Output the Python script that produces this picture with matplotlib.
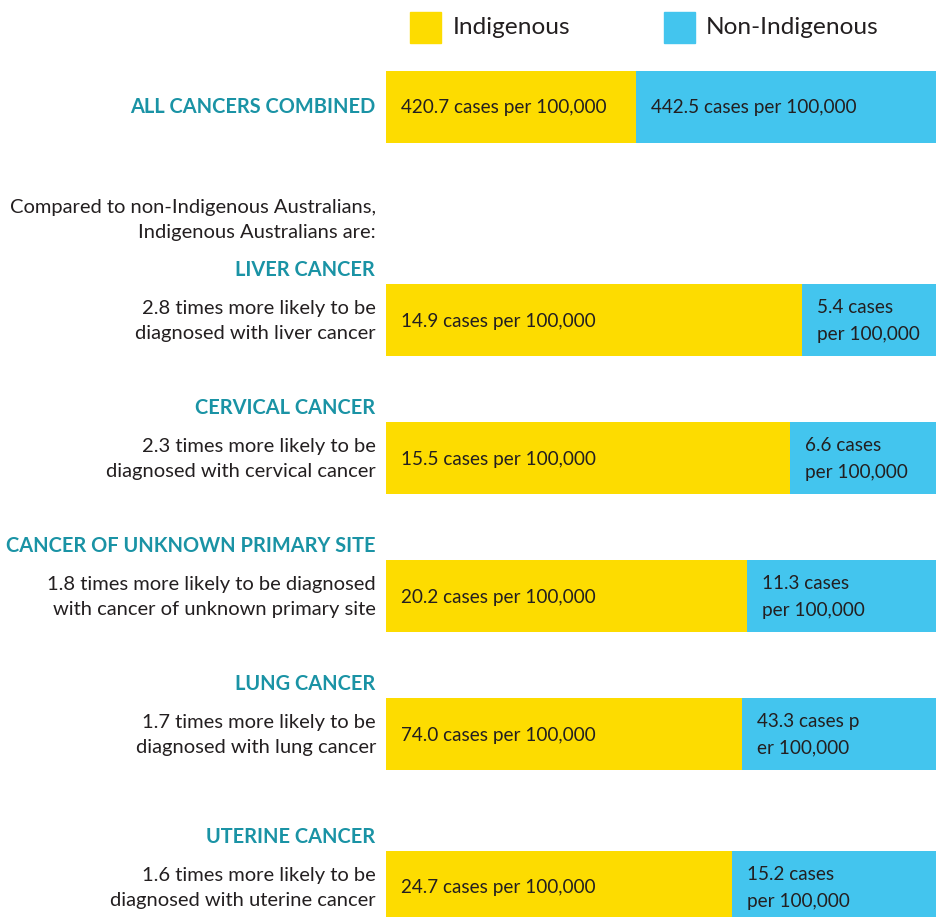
import matplotlib.pyplot as plt

# cancer incidence, Indigenous vs non-Indigenous Australians
headings = ["ALL CANCERS COMBINED", "LIVER CANCER", "CERVICAL CANCER",
            "CANCER OF UNKNOWN PRIMARY SITE", "LUNG CANCER", "UTERINE CANCER"]
descriptions = ["",
                "2.8 times more likely to be\ndiagnosed with liver cancer",
                "2.3 times more likely to be\ndiagnosed with cervical cancer",
                "1.8 times more likely to be diagnosed\nwith cancer of unknown primary site",
                "1.7 times more likely to be\ndiagnosed with lung cancer",
                "1.6 times more likely to be\ndiagnosed with uterine cancer"]
indig_share = [0.455, 0.756, 0.735, 0.656, 0.647, 0.629]
indig_labels = ["420.7 cases per 100,000", "14.9 cases per 100,000",
                "15.5 cases per 100,000", "20.2 cases per 100,000",
                "74.0 cases per 100,000", "24.7 cases per 100,000"]
non_labels = ["442.5 cases per 100,000", "5.4 cases\nper 100,000",
              "6.6 cases\nper 100,000", "11.3 cases\nper 100,000",
              "43.3 cases p\ner 100,000", "15.2 cases\nper 100,000"]

YELLOW = "#FDDC00"
BLUE = "#43C5EE"
TEAL = "#1A93A5"
DARK = "#231F20"

plt.rcParams['font.family'] = ['Lato', 'DejaVu Sans']

W, H = 936, 917
fig = plt.figure(figsize=(W / 100, H / 100), dpi=100)
ax = fig.add_axes([0, 0, 1, 1])
ax.set_xlim(0, W)
ax.set_ylim(H, 0)
ax.axis("off")

bar_left = 386
bar_w = 550
bar_h = 72
centers = [107, 320, 458, 596, 734, 887]
head_y = [107, 270, 408, 546, 684, 837]

ind_w = [s * bar_w for s in indig_share]
ax.barh(centers, ind_w, height=bar_h, left=bar_left, color=YELLOW)
ax.barh(centers, [bar_w - w for w in ind_w], height=bar_h,
        left=[bar_left + w for w in ind_w], color=BLUE)

fs = 14.5
fs_bar = 13.6
ls = 1.55
for i in range(len(headings)):
    ax.text(375, head_y[i], headings[i], ha="right", va="center",
            fontsize=14.4, fontweight="bold", color=TEAL)
    if descriptions[i]:
        ax.text(376, centers[i] + 1, descriptions[i], ha="right", va="center",
                fontsize=fs, color=DARK, linespacing=ls)
    ax.text(bar_left + 15, centers[i] + 1, indig_labels[i], ha="left",
            va="center", fontsize=fs_bar, color=DARK)
    ax.text(bar_left + ind_w[i] + 15, centers[i] + 1, non_labels[i],
            ha="left", va="center", fontsize=fs_bar, color=DARK,
            linespacing=1.65)

ax.text(376, 220, "Compared to non-Indigenous Australians,\nIndigenous Australians are:",
        ha="right", va="center", fontsize=fs, color=DARK, linespacing=ls)

# legend
ax.add_patch(plt.Rectangle((410, 12), 31, 31, color=YELLOW))
ax.add_patch(plt.Rectangle((664, 12), 31, 31, color=BLUE))
ax.text(453, 28, "Indigenous", ha="left", va="center", fontsize=17.6, color=DARK)
ax.text(706, 28, "Non-Indigenous", ha="left", va="center", fontsize=17.6, color=DARK)

fig.savefig("out.png", dpi=100)
